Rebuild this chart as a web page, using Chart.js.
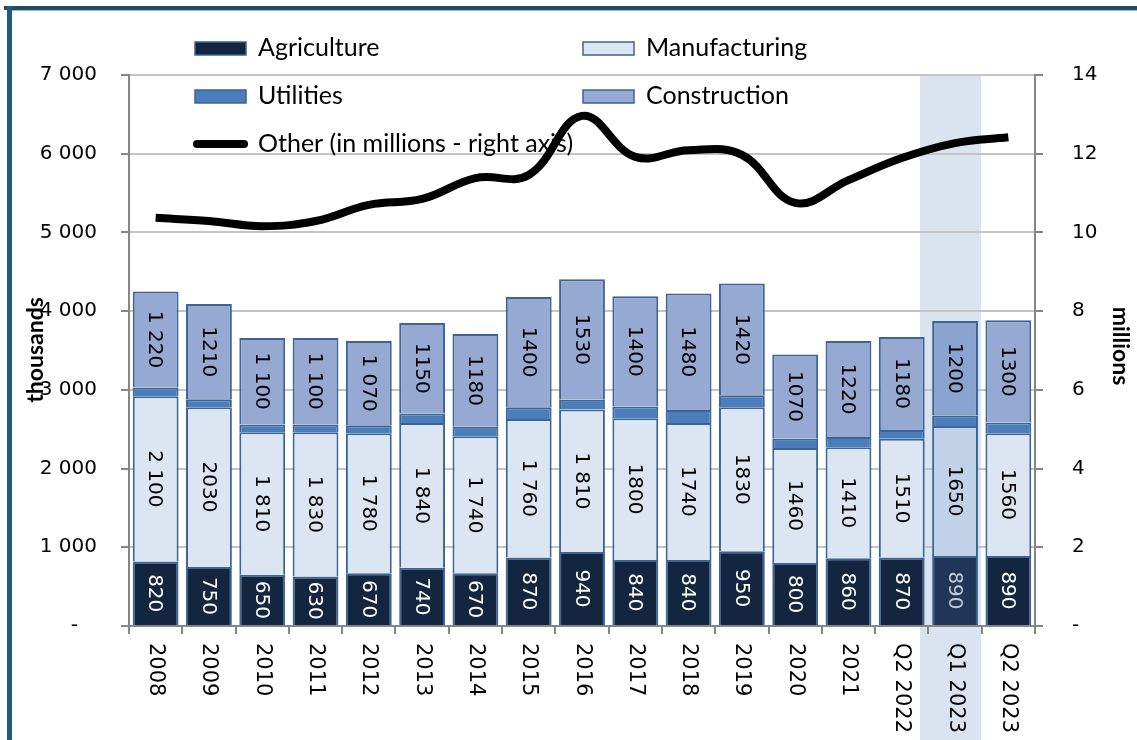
<!DOCTYPE html>
<html>
<head>
<meta charset="utf-8">
<script src="https://cdn.jsdelivr.net/npm/chart.js@4.4.0/dist/chart.umd.min.js"></script>
<style>
body{margin:0;background:#fff;}
</style>
</head>
<body>
<canvas id="Grafico1" width="1137" height="740"></canvas>
<script>
// data
let categories = ['2008','2009','2010','2011','2012','2013','2014','2015','2016','2017','2018','2019','2020','2021','Q2 2022','Q1 2023','Q2 2023'];
let agriculture = [820,750,650,630,670,740,670,870,940,840,840,950,800,860,870,890,890];
let manufacturing = [2100,2030,1810,1830,1780,1840,1740,1760,1810,1800,1740,1830,1460,1410,1510,1650,1560];
let utilities = [110,100,100,100,100,120,120,150,125,150,165,150,120,130,110,135,135];
let construction = [1220,1210,1100,1100,1070,1150,1180,1400,1530,1400,1480,1420,1070,1220,1180,1200,1300];
let other = [10.37,10.29,10.16,10.29,10.70,10.85,11.38,11.46,12.96,11.92,12.09,11.97,10.75,11.33,11.89,12.27,12.42];
// labels printed with a thousands space or without, as in the source
let manuSpaced = [1,0,1,1,1,1,1,1,1,0,0,0,0,0,0,0,0];
let consSpaced = [1,0,1,1,1,0,0,0,0,0,0,0,0,0,0,0,0];
let leftTicks = {min:0, max:7000, step:1000};
let rightTicks = {min:0, max:14, step:2};
let highlight = categories.indexOf('Q1 2023');

const numFont = 'Verdana, "DejaVu Sans", sans-serif';

function fmt(v, spaced){
    if(spaced && v >= 1000){
        return Math.floor(v/1000) + ' ' + String(v%1000).padStart(3,'0');
    }
    return String(v);
}
function perBar(normal, hi){
    return categories.map((c,i) => i==highlight ? hi : normal);
}

const decor = {
    id: 'decor',
    beforeDraw(chart){
        let ctx = chart.ctx, area = chart.chartArea;
        let cx = chart.scales.x.getPixelForValue(highlight);
        ctx.save();
        ctx.fillStyle = '#dae3f0';
        ctx.fillRect(cx-35, area.top, 61, chart.height-area.top);
        ctx.restore();
    },
    beforeDatasetsDraw(chart){
        // legend, drawn under the line
        let ctx = chart.ctx;
        let ds = chart.data.datasets;
        let spots = [[195,48],[583,48],[195,96],[583,96],[195,144]];
        ctx.save();
        ctx.font = '25px Lato';
        ctx.textBaseline = 'middle';
        ctx.textAlign = 'left';
        ds.forEach((d,i) => {
            let [x,y] = spots[i];
            if(d.type == 'line'){
                ctx.strokeStyle = '#000';
                ctx.lineWidth = 8;
                ctx.lineCap = 'round';
                ctx.beginPath();
                ctx.moveTo(x+2,y);
                ctx.lineTo(x+49,y);
                ctx.stroke();
            }else{
                ctx.fillStyle = d.legendColor;
                ctx.fillRect(x,y-6,51,13);
                ctx.strokeStyle = '#3c6496';
                ctx.lineWidth = 1.5;
                ctx.strokeRect(x,y-6,51,13);
            }
            ctx.fillStyle = '#000';
            ctx.fillText(d.label, x+63, y);
        });
        ctx.restore();
    },
    afterDatasetsDraw(chart){
        let ctx = chart.ctx, area = chart.chartArea;
        // values inside the bars
        ctx.save();
        ctx.beginPath();
        ctx.rect(area.left, area.top, area.right-area.left, area.bottom-area.top);
        ctx.clip();
        ctx.font = '20px ' + numFont;
        ctx.textAlign = 'center';
        ctx.textBaseline = 'middle';
        chart.data.datasets.forEach((d,di) => {
            if(!d.showValues) return;
            let meta = chart.getDatasetMeta(di);
            meta.data.forEach((bar,i) => {
                let cy = (bar.y + bar.base)/2;
                ctx.save();
                ctx.translate(bar.x, cy);
                ctx.rotate(Math.PI/2);
                ctx.fillStyle = typeof d.valueColor == 'function' ? d.valueColor(i) : d.valueColor;
                ctx.fillText(fmt(d.data[i], d.spaced ? d.spaced[i] : 0), 0, 1);
                ctx.restore();
            });
        });
        ctx.restore();

        // category labels, turned clockwise
        ctx.save();
        ctx.font = '21px ' + numFont;
        ctx.fillStyle = '#000';
        ctx.textAlign = 'left';
        ctx.textBaseline = 'middle';
        categories.forEach((c,i) => {
            let x = chart.scales.x.getPixelForValue(i);
            ctx.save();
            ctx.translate(x, area.bottom+17);
            ctx.rotate(Math.PI/2);
            ctx.fillText(c, 0, 0);
            ctx.restore();
        });
        ctx.restore();

        // axis titles
        ctx.save();
        ctx.font = 'bold 23px Lato';
        ctx.fillStyle = '#000';
        ctx.textAlign = 'center';
        ctx.textBaseline = 'middle';
        ctx.translate(36, 350);
        ctx.rotate(-Math.PI/2);
        ctx.fillText('thousands', 0, 0);
        ctx.restore();
        ctx.save();
        ctx.font = 'bold 23px Lato';
        ctx.fillStyle = '#000';
        ctx.textAlign = 'center';
        ctx.textBaseline = 'middle';
        ctx.translate(1120, 346);
        ctx.rotate(Math.PI/2);
        ctx.fillText('millions', 0, 0);
        ctx.restore();

        // frame
        ctx.save();
        ctx.fillStyle = '#1d4b5f';
        ctx.fillRect(4, 6, 1133, 4);
        ctx.fillStyle = '#9ab8c4';
        ctx.fillRect(12, 10, 1125, 1);
        ctx.fillStyle = '#245c75';
        ctx.fillRect(7, 6, 5, 734);
        ctx.restore();
    }
};

let CanvasG1 = document.getElementById('Grafico1').getContext('2d');
let datos = {
    labels: categories,
    datasets: [{
        label: 'Agriculture',
        data: agriculture,
        backgroundColor: perBar('#13253f','#1f3657'),
        legendColor: '#13253f',
        showValues: true,
        valueColor: i => i==highlight ? '#c5cbd5' : '#fff',
        order: 1
    },{
        label: 'Manufacturing',
        data: manufacturing,
        backgroundColor: perBar('#dce6f2','#c0d1e8'),
        legendColor: '#dce6f2',
        showValues: true,
        spaced: manuSpaced,
        valueColor: '#000',
        order: 1
    },{
        label: 'Utilities',
        data: utilities,
        backgroundColor: perBar('#4a7ebb','#4a7ebb'),
        legendColor: '#4a7ebb',
        order: 1
    },{
        label: 'Construction',
        data: construction,
        backgroundColor: perBar('#95a9d3','#8aa4cf'),
        legendColor: '#95a9d3',
        showValues: true,
        spaced: consSpaced,
        valueColor: '#000',
        order: 1
    },{
        label: 'Other (in millions - right axis)',
        type: 'line',
        data: other,
        yAxisID: 'y1',
        borderColor: '#000',
        borderWidth: 8,
        pointRadius: 0,
        tension: 0.4,
        order: 0
    }]
};

datos.datasets.forEach(d => {
    if(d.type != 'line'){
        d.borderColor = '#3c6496';
        d.borderWidth = 2;
        d.barPercentage = 0.86;
        d.categoryPercentage = 1;
    }
});

let opciones = {
    responsive: false,
    animation: false,
    layout: {padding: {top: 75, left: 0, right: 0, bottom: 0}},
    plugins: {
        legend: {display: false},
        tooltip: {enabled: false}
    },
    scales: {
        x: {
            stacked: true,
            afterFit: s => { s.height = 114; },
            grid: {offset: true, drawOnChartArea: false, drawTicks: true, tickLength: 8, color: '#868686', lineWidth: 2},
            border: {color: '#868686', width: 2},
            ticks: {display: false}
        },
        y: {
            stacked: true,
            min: leftTicks.min,
            max: leftTicks.max,
            afterFit: s => { s.width = 129; },
            grid: {color: '#c4c4c4', lineWidth: 2, tickLength: 8, tickColor: '#868686'},
            border: {color: '#868686', width: 2},
            ticks: {
                stepSize: leftTicks.step,
                padding: 24,
                color: '#000',
                font: {family: numFont, size: 20},
                callback: v => v == 0 ? '-   ' : fmt(v, 1)
            }
        },
        y1: {
            position: 'right',
            min: rightTicks.min,
            max: rightTicks.max,
            afterFit: s => { s.width = 102; },
            grid: {drawOnChartArea: false, tickLength: 8, color: '#868686', lineWidth: 2},
            border: {color: '#868686', width: 2},
            ticks: {
                stepSize: rightTicks.step,
                padding: 29,
                color: '#000',
                font: {family: numFont, size: 20},
                callback: v => v == 0 ? '-' : String(v)
            }
        }
    }
};

let G1 = new Chart(CanvasG1, {
    type: 'bar',
    data: datos,
    options: opciones,
    plugins: [decor]
});
</script>
</body>
</html>
